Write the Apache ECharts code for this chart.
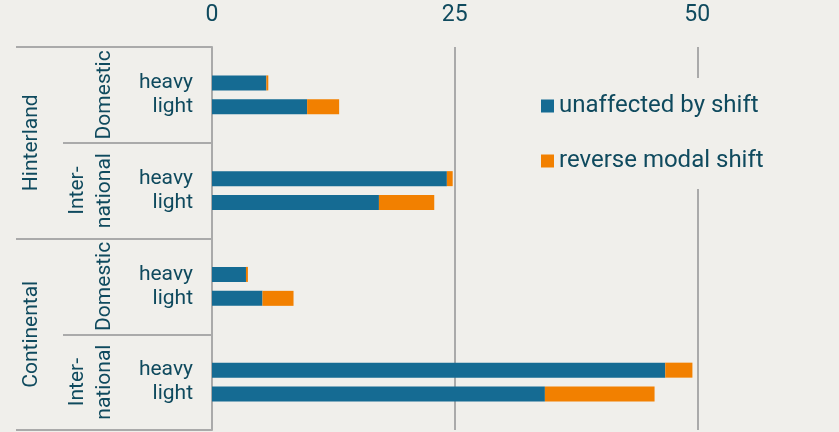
<!DOCTYPE html>
<html>
<head>
<meta charset="utf-8">
<script src="https://cdn.jsdelivr.net/npm/echarts@6/dist/echarts.min.js"></script>
<style>
html,body{margin:0;padding:0;background:#f0efeb;}
#chart{width:839px;height:432px;}
</style>
</head>
<body>
<div id="chart"></div>
<script>
const groups = ['Hinterland', 'Continental'];
const subgroups = ['Domestic', 'Inter-\nnational'];
const sizes = ['heavy', 'light'];
const unaffected = [5.6, 9.8, 24.2, 17.2, 3.5, 5.2, 46.7, 34.3];
const reverseShift = [0.2, 3.3, 0.6, 5.7, 0.2, 3.2, 2.8, 11.3];
const xTicks = [0, 25, 50];

const seriesNames = ['unaffected by shift', 'reverse modal shift'];
const textColor = '#0f4a5e';
const lineColor = '#aaaaaa';
const bg = '#f0efeb';

const slotIds = [], slotLabels = [], dataA = [], dataB = [];
const subIds = [], subLabels = [];
let k = 0;
groups.forEach(g => {
  subgroups.forEach(s => {
    subIds.push(g + '|' + s); subLabels.push(s);
    slotIds.push(g + '|' + s + '|gapA'); slotLabels.push(''); dataA.push('-'); dataB.push('-');
    sizes.forEach(z => {
      slotIds.push(g + '|' + s + '|' + z); slotLabels.push(z);
      dataA.push(unaffected[k]); dataB.push(reverseShift[k]); k++;
    });
    slotIds.push(g + '|' + s + '|gapB'); slotLabels.push(''); dataA.push('-'); dataB.push('-');
  });
});

const font = 'Roboto';
const chart = echarts.init(document.getElementById('chart'));
chart.setOption({
  backgroundColor: bg,
  animation: false,
  textStyle: { fontFamily: font },
  grid: { left: 212, right: 1, top: 47, bottom: 2, containLabel: false, outerBoundsMode: 'none' },
  legend: {
    orient: 'vertical', left: 531, top: 78,
    padding: [15, 10, 15, 10],
    backgroundColor: bg,
    icon: 'rect', itemWidth: 13, itemHeight: 13, itemGap: 29,
    textStyle: { fontSize: 24, lineHeight: 26, color: textColor, fontFamily: font },
    data: seriesNames
  },
  xAxis: {
    type: 'value', position: 'top', min: 0, max: 64.5, interval: 25,
    axisLine: { show: false }, axisTick: { show: false },
    axisLabel: {
      fontSize: 23, color: textColor, margin: 20, showMaxLabel: false, fontFamily: font,
      formatter: v => xTicks.includes(v) ? String(v) : ''
    },
    splitLine: { show: true, showMaxLine: false, lineStyle: { color: lineColor, width: 2 } }
  },
  yAxis: [
    {
      type: 'category', position: 'left', offset: 0, inverse: true, data: slotIds,
      axisLine: { show: true, lineStyle: { color: lineColor, width: 2 } },
      axisTick: { show: false },
      axisLabel: {
        interval: 0, fontSize: 21, color: textColor, margin: 19, fontFamily: font,
        formatter: (v, i) => slotLabels[i]
      }
    },
    {
      type: 'category', position: 'left', offset: 0, inverse: true, data: subIds,
      axisLine: { show: false },
      axisTick: { show: true, interval: 0, length: 149, lineStyle: { color: lineColor, width: 2 } },
      axisLabel: {
        interval: 0, rotate: 90, margin: 94, align: 'center', verticalAlign: 'bottom',
        fontSize: 21, lineHeight: 27, color: textColor, fontFamily: font, overflow: 'none',
        formatter: (v, i) => subLabels[i]
      }
    },
    {
      type: 'category', position: 'left', offset: 0, inverse: true, data: groups,
      axisLine: { show: false },
      axisTick: { show: true, interval: 0, length: 196, lineStyle: { color: lineColor, width: 2 } },
      axisLabel: {
        interval: 0, rotate: 90, margin: 170, align: 'center', verticalAlign: 'bottom',
        fontSize: 21, color: textColor, fontFamily: font, overflow: 'none'
      }
    }
  ],
  series: [
    { name: seriesNames[0], type: 'bar', stack: 'total', yAxisIndex: 0, barWidth: 15,
      itemStyle: { color: '#156b93' }, data: dataA },
    { name: seriesNames[1], type: 'bar', stack: 'total', yAxisIndex: 0, barWidth: 15,
      itemStyle: { color: '#f28000' }, data: dataB }
  ]
});
</script>
</body>
</html>
